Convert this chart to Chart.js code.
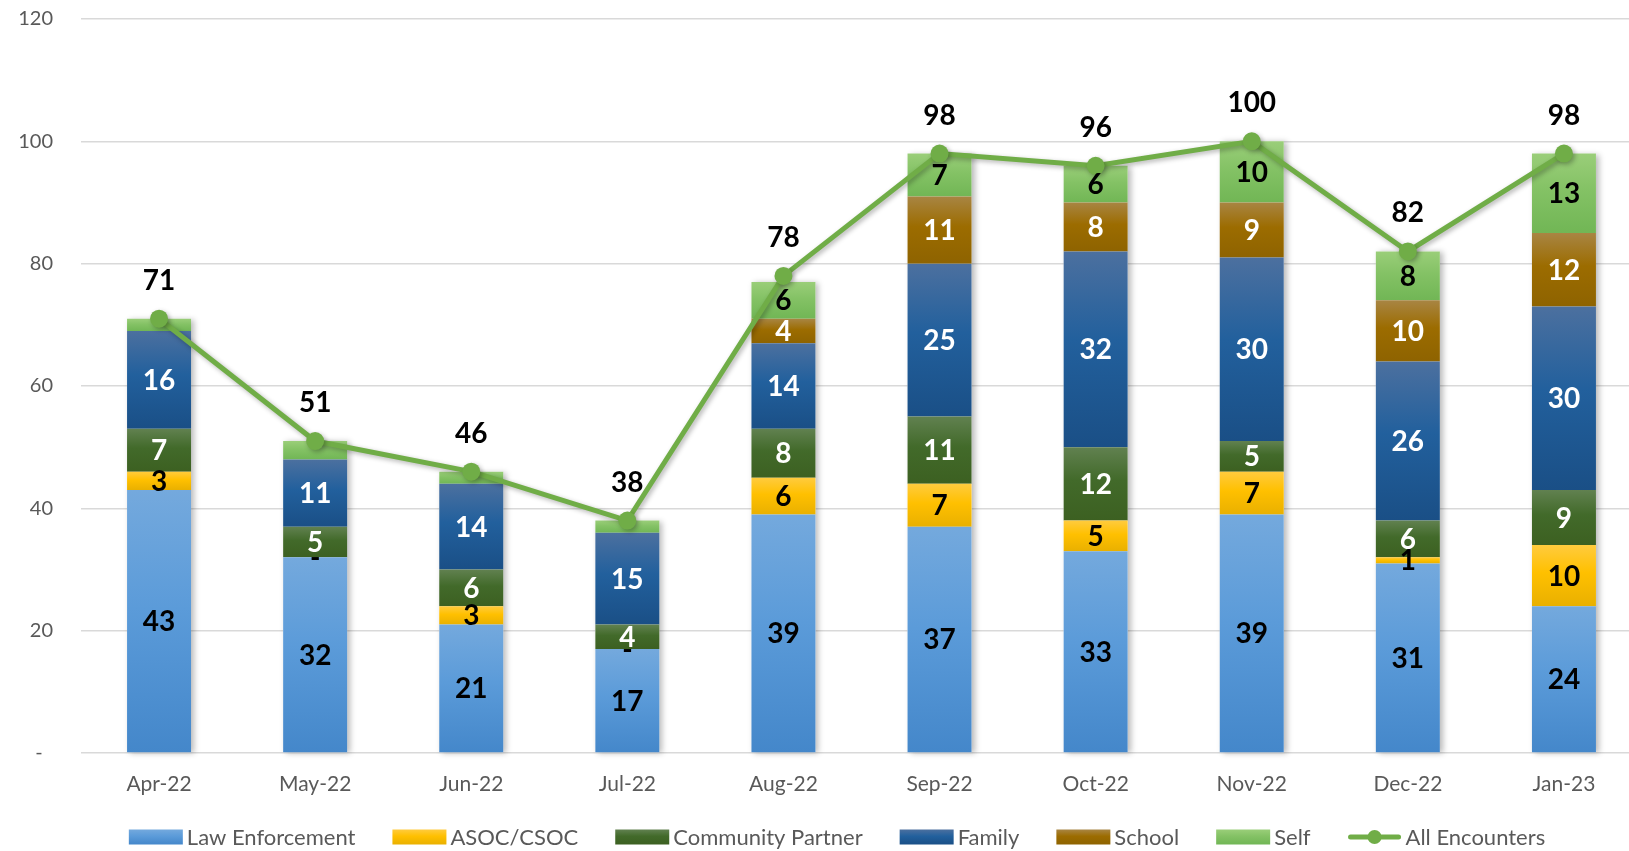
<!DOCTYPE html>
<html>
<head>
<meta charset="utf-8">
<script src="https://cdn.jsdelivr.net/npm/chart.js@4.4.1/dist/chart.umd.min.js"></script>
<style>
  html, body { margin: 0; padding: 0; background: #ffffff; overflow: hidden; }
  #wrap { position: relative; width: 1674px; height: 851px; }
</style>
</head>
<body>
<div id="wrap"><canvas id="c"></canvas></div>
<script>
// ---- Data ----
const months = ['Apr-22','May-22','Jun-22','Jul-22','Aug-22','Sep-22','Oct-22','Nov-22','Dec-22','Jan-23'];
const lawEnforcement   = [43, 32, 21, 17, 39, 37, 33, 39, 31, 24];
const asocCsoc         = [ 3,  0,  3,  0,  6,  7,  5,  7,  1, 10];
const communityPartner = [ 7,  5,  6,  4,  8, 11, 12,  5,  6,  9];
const family           = [16, 11, 14, 15, 14, 25, 32, 30, 26, 30];
const school           = [ 0,  0,  0,  0,  4, 11,  8,  9, 10, 12];
const self             = [ 2,  3,  2,  2,  6,  7,  6, 10,  8, 13];
const allEncounters    = [71, 51, 46, 38, 78, 98, 96, 100, 82, 98];
const yTicks           = [0, 20, 40, 60, 80, 100, 120];

const seriesNames = ['Law Enforcement','ASOC/CSOC','Community Partner','Family','School','Self'];
const seriesData  = [lawEnforcement, asocCsoc, communityPartner, family, school, self];

// styles: [top, mid, bottom] gradient stops, label colour
const seriesStyle = [
  { stops: ['#74A9DD', '#5B9BD9', '#4487CA'], solid: '#5B9BD5', label: '#000000' },
  { stops: ['#FFCB3E', '#FFC000', '#E9B000'], solid: '#FFC000', label: '#000000' },
  { stops: ['#618150', '#426A2A', '#3C6021'], solid: '#43682B', label: '#FFFFFF' },
  { stops: ['#4C709F', '#22609D', '#1A4F86'], solid: '#255E91', label: '#FFFFFF' },
  { stops: ['#A88543', '#9C6C00', '#8E6300'], solid: '#9E7000', label: '#FFFFFF' },
  { stops: ['#9ACE79', '#84C265', '#71B655'], solid: '#8CC168', label: '#000000' }
];
const lineColor = '#70AD47';
const FONT = 'Lato, "Open Sans", "DejaVu Sans", sans-serif';

function gradientFor(si) {
  const st = seriesStyle[si];
  return function (c) {
    const chart = c.chart;
    if (!chart.chartArea || c.type !== 'data') return st.solid;
    const i = c.dataIndex;
    let start = 0;
    for (let k = 0; k < si; k++) start += seriesData[k][i];
    const end = start + seriesData[si][i];
    const y = chart.scales.y;
    if (!y) return st.solid;
    const top = y.getPixelForValue(end), bot = y.getPixelForValue(start);
    if (!isFinite(top) || !isFinite(bot) || bot - top < 1) return st.solid;
    const g = chart.ctx.createLinearGradient(0, top, 0, bot);
    g.addColorStop(0, st.stops[0]);
    g.addColorStop(0.45, st.stops[1]);
    g.addColorStop(1, st.stops[2]);
    return g;
  };
}

const barDatasets = seriesNames.map((name, si) => ({
  type: 'bar',
  label: name,
  data: seriesData[si],
  stack: 'bars',
  backgroundColor: gradientFor(si),
  borderWidth: 0,
  barPercentage: 0.41,
  categoryPercentage: 1.0,
  order: 2
}));

const lineDataset = {
  type: 'line',
  label: 'All Encounters',
  data: allEncounters,
  stack: 'total',
  borderColor: lineColor,
  backgroundColor: lineColor,
  borderWidth: 5,
  pointRadius: 9,
  pointHoverRadius: 9,
  pointBackgroundColor: lineColor,
  pointBorderColor: lineColor,
  pointBorderWidth: 0,
  tension: 0,
  clip: false,
  order: 1
};

// shadow behind each bar stack + behind the line
const shadowPlugin = {
  id: 'shadows',
  beforeDatasetsDraw(chart) {
    const ctx = chart.ctx;
    const first = chart.getDatasetMeta(0);
    const nBars = seriesNames.length;
    ctx.save();
    ctx.shadowColor = 'rgba(0,0,0,0.28)';
    ctx.shadowBlur = 6;
    ctx.shadowOffsetX = 3;
    ctx.shadowOffsetY = 1;
    ctx.fillStyle = '#ffffff';
    first.data.forEach((el, i) => {
      let topY = el.y;
      for (let k = 0; k < nBars; k++) {
        const e = chart.getDatasetMeta(k).data[i];
        if (e && e.y < topY) topY = e.y;
      }
      const w = el.width;
      ctx.fillRect(el.x - w / 2, topY, w, el.base - topY);
    });
    ctx.restore();
  },
  beforeDatasetDraw(chart, args) {
    if (chart.data.datasets[args.index].type === 'line') {
      const ctx = chart.ctx;
      ctx.save();
      ctx.shadowColor = 'rgba(0,0,0,0.3)';
      ctx.shadowBlur = 5;
      ctx.shadowOffsetX = 2;
      ctx.shadowOffsetY = 2;
    }
  },
  afterDatasetDraw(chart, args) {
    if (chart.data.datasets[args.index].type === 'line') chart.ctx.restore();
  }
};

// data labels
const labelPlugin = {
  id: 'valueLabels',
  afterDatasetsDraw(chart) {
    const ctx = chart.ctx;
    ctx.save();
    ctx.font = 'bold 28px ' + FONT;
    ctx.textAlign = 'center';
    ctx.textBaseline = 'middle';
    seriesNames.forEach((name, si) => {
      const meta = chart.getDatasetMeta(si);
      meta.data.forEach((el, i) => {
        const v = seriesData[si][i];
        let txt = null;
        if (si === 1) txt = v === 0 ? '-' : String(v);          // ASOC/CSOC shows '-' for zero
        else if (si === 5) txt = v >= 4 ? String(v) : null;       // small Self values unlabeled
        else txt = v > 0 ? String(v) : null;
        if (txt === null) return;
        ctx.fillStyle = seriesStyle[si].label;
        const cy = (el.y + el.base) / 2;
        ctx.fillText(txt, el.x, cy + 1);
      });
    });
    const lm = chart.getDatasetMeta(seriesNames.length);
    ctx.fillStyle = '#000000';
    lm.data.forEach((pt, i) => {
      ctx.fillText(String(allEncounters[i]), pt.x, pt.y - 38);
    });
    ctx.restore();
  }
};

// custom legend at bottom
const legendPlugin = {
  id: 'customLegend',
  afterDraw(chart) {
    const ctx = chart.ctx;
    ctx.save();
    ctx.font = '22px ' + FONT;
    ctx.textBaseline = 'middle';
    const boxW = 54, boxH = 15, gapText = 4, gapItem = 37;
    const items = seriesNames.map((n, si) => ({ name: n, kind: 'box', si }))
      .concat([{ name: 'All Encounters', kind: 'line' }]);
    let total = 0;
    items.forEach((it, k) => {
      it.tw = ctx.measureText(it.name).width;
      it.w = boxW + gapText + it.tw;
      total += it.w + (k ? gapItem : 0);
    });
    let x = 837 - total / 2;
    const cy = 837;
    items.forEach((it) => {
      if (it.kind === 'box') {
        const st = seriesStyle[it.si];
        const g = ctx.createLinearGradient(0, cy - boxH / 2, 0, cy + boxH / 2);
        g.addColorStop(0, st.stops[0]);
        g.addColorStop(0.45, st.stops[1]);
        g.addColorStop(1, st.stops[2]);
        ctx.fillStyle = g;
        ctx.fillRect(x, cy - boxH / 2, boxW, boxH);
      } else {
        ctx.strokeStyle = lineColor;
        ctx.lineWidth = 5;
        ctx.lineCap = 'round';
        ctx.beginPath();
        ctx.moveTo(x + 3, cy);
        ctx.lineTo(x + boxW - 3, cy);
        ctx.stroke();
        ctx.fillStyle = lineColor;
        ctx.beginPath();
        ctx.arc(x + boxW / 2, cy, 7, 0, Math.PI * 2);
        ctx.fill();
      }
      ctx.fillStyle = '#595959';
      ctx.textAlign = 'left';
      ctx.fillText(it.name, x + boxW + gapText, cy + 1);
      x += it.w + gapItem;
    });
    ctx.restore();
  }
};

new Chart(document.getElementById('c'), {
  data: { labels: months, datasets: barDatasets.concat([lineDataset]) },
  options: {
    responsive: true,
    maintainAspectRatio: false,
    animation: false,
    events: [],
    layout: { autoPadding: false, padding: { left: 20, top: 19, right: 32, bottom: 51 } },
    plugins: {
      legend: { display: false },
      tooltip: { enabled: false },
      title: { display: false }
    },
    scales: {
      x: {
        stacked: true,
        grid: { display: false, drawTicks: false },
        border: { display: false },
        ticks: { color: '#595959', font: { family: FONT, size: 21 }, padding: 19, maxRotation: 0 },
        afterFit(s) { s.height = 47; s.paddingLeft = 0; s.paddingRight = 0; }
      },
      y: {
        stacked: true,
        min: yTicks[0],
        max: yTicks[yTicks.length - 1],
        afterBuildTicks(scale) { scale.ticks = yTicks.map(v => ({ value: v })); },
        grid: { color: '#D9D9D9', lineWidth: 1.5, drawTicks: false },
        border: { display: false },
        ticks: {
          color: '#595959',
          font: { family: FONT, size: 20 },
          padding: 28,
          callback: (v) => v === 0 ? '-  ' : String(v)
        },
        afterFit(s) { s.width = 61; s.paddingTop = 12; s.paddingBottom = 0; }
      }
    }
  },
  plugins: [shadowPlugin, labelPlugin, legendPlugin]
});
</script>
</body>
</html>
